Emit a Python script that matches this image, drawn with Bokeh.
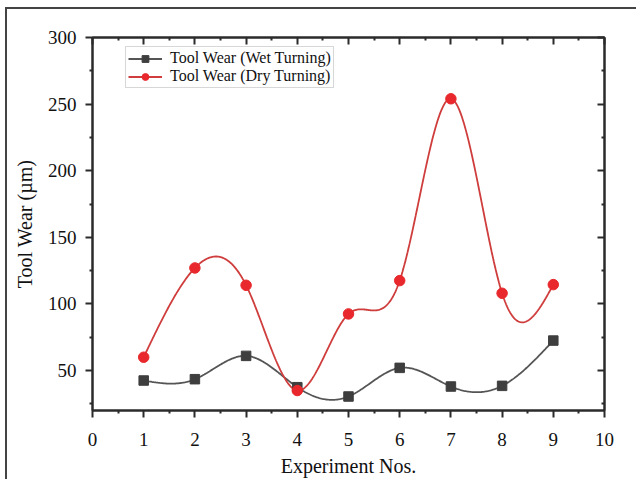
import numpy as np
from bokeh.plotting import figure
from bokeh.models import (Range1d, LinearAxis, FixedTicker, Legend, LegendItem)
from bokeh.embed import file_html
from bokeh.resources import INLINE

experiments = [1, 2, 3, 4, 5, 6, 7, 8, 9]
wet_wear = [42.5, 43.5, 61, 37.5, 30.5, 52, 38, 38.5, 72.5]
dry_wear = [60, 127, 114, 35, 92.5, 117.5, 254, 108, 114.5]
x_ticks = [0, 1, 2, 3, 4, 5, 6, 7, 8, 9, 10]
y_ticks = [50, 100, 150, 200, 250, 300]
legend_labels = ["Tool Wear (Wet Turning)", "Tool Wear (Dry Turning)"]


def natural_spline(xs, ys, n=400):
    xs = np.asarray(xs, float)
    ys = np.asarray(ys, float)
    k = len(xs)
    h = np.diff(xs)
    A = np.zeros((k, k))
    b = np.zeros(k)
    A[0, 0] = 1
    A[-1, -1] = 1
    for i in range(1, k - 1):
        A[i, i - 1] = h[i - 1]
        A[i, i] = 2 * (h[i - 1] + h[i])
        A[i, i + 1] = h[i]
        b[i] = 6 * ((ys[i + 1] - ys[i]) / h[i] - (ys[i] - ys[i - 1]) / h[i - 1])
    M = np.linalg.solve(A, b)
    xx = np.linspace(xs[0], xs[-1], n)
    idx = np.clip(np.searchsorted(xs, xx) - 1, 0, k - 2)
    x0, x1 = xs[idx], xs[idx + 1]
    hh = x1 - x0
    t0 = x1 - xx
    t1 = xx - x0
    yy = (M[idx] * t0 ** 3 / (6 * hh) + M[idx + 1] * t1 ** 3 / (6 * hh)
          + (ys[idx] / hh - M[idx] * hh / 6) * t0
          + (ys[idx + 1] / hh - M[idx + 1] * hh / 6) * t1)
    return xx, yy


FONT = "Liberation Serif"
AX = "#2b2b2b"

p = figure(frame_width=512, frame_height=373,
           min_border_left=85, min_border_top=28, min_border_right=32, min_border_bottom=66,
           x_range=Range1d(0, 10), y_range=Range1d(20, 300),
           output_backend="svg", toolbar_location=None,
           x_axis_label="Experiment Nos.", y_axis_label="Tool Wear (µm)")
p.styles = {"border-left": "2px solid #444444", "border-top": "2px solid #444444",
            "margin-left": "5px", "margin-top": "7px"}
p.grid.visible = False
p.outline_line_color = AX
p.outline_line_width = 2

xt = FixedTicker(ticks=x_ticks, minor_ticks=[v + 0.5 for v in x_ticks[:-1]])
yt = FixedTicker(ticks=y_ticks, minor_ticks=[25 + 50 * i for i in range(6)])

for ax in (p.xaxis[0], p.yaxis[0]):
    ax.axis_line_color = AX
    ax.axis_line_width = 2
    ax.major_tick_line_color = AX
    ax.minor_tick_line_color = AX
    ax.major_tick_line_width = 2
    ax.minor_tick_line_width = 2
    ax.major_tick_out = 7
    ax.major_tick_in = 0
    ax.minor_tick_out = 3
    ax.minor_tick_in = 0
    ax.major_label_text_font = FONT
    ax.major_label_text_font_size = "19px"
    ax.major_label_text_color = "#111111"
    ax.axis_label_text_font = FONT
    ax.axis_label_text_font_size = "20px"
    ax.axis_label_text_font_style = "normal"
    ax.axis_label_text_color = "#111111"
p.xaxis[0].ticker = xt
p.yaxis[0].ticker = yt
p.xaxis[0].major_label_standoff = 15
p.xaxis[0].axis_label_standoff = 6
p.yaxis[0].major_label_standoff = 9
p.yaxis[0].axis_label_standoff = 9

top = LinearAxis(ticker=xt)
right = LinearAxis(ticker=yt)
for ax in (top, right):
    ax.axis_line_color = AX
    ax.axis_line_width = 2
    ax.major_tick_line_color = AX
    ax.minor_tick_line_color = AX
    ax.major_tick_line_width = 2
    ax.minor_tick_line_width = 2
    ax.major_tick_in = 7
    ax.major_tick_out = 0
    ax.minor_tick_in = 3
    ax.minor_tick_out = 0
    ax.major_label_standoff = 0
    ax.major_label_text_color = None
    ax.major_label_text_font_size = "6px"
p.add_layout(top, "above")
p.add_layout(right, "right")

wx, wy = natural_spline(experiments, wet_wear)
dx, dy = natural_spline(experiments, dry_wear)

wet_line = p.line(wx, wy, line_color="#555555", line_width=1.8)
dry_line = p.line(dx, dy, line_color="#cf3d3d", line_width=1.8)
wet_mk = p.scatter(experiments, wet_wear, marker="square", size=9.5,
                   fill_color="#3e3e3e", line_color="#3e3e3e")
dry_mk = p.scatter(experiments, dry_wear, marker="circle", size=10.5,
                   fill_color="#e8282c", line_color="#e8282c")

legend = Legend(items=[LegendItem(label=legend_labels[0], renderers=[wet_line, wet_mk]),
                       LegendItem(label=legend_labels[1], renderers=[dry_line, dry_mk])],
                location=(33, 322))
legend.label_text_font = FONT
legend.label_text_font_size = "16px"
legend.label_text_color = "#111111"
legend.glyph_width = 34
legend.glyph_height = 17
legend.label_height = 17
legend.spacing = 0
legend.padding = 2
legend.margin = 0
legend.label_standoff = 8
legend.border_line_color = "#b0b0b0"
legend.border_line_width = 1.5
legend.background_fill_alpha = 1
p.add_layout(legend, "center")

open("out.html", "w").write(file_html(p, INLINE))
